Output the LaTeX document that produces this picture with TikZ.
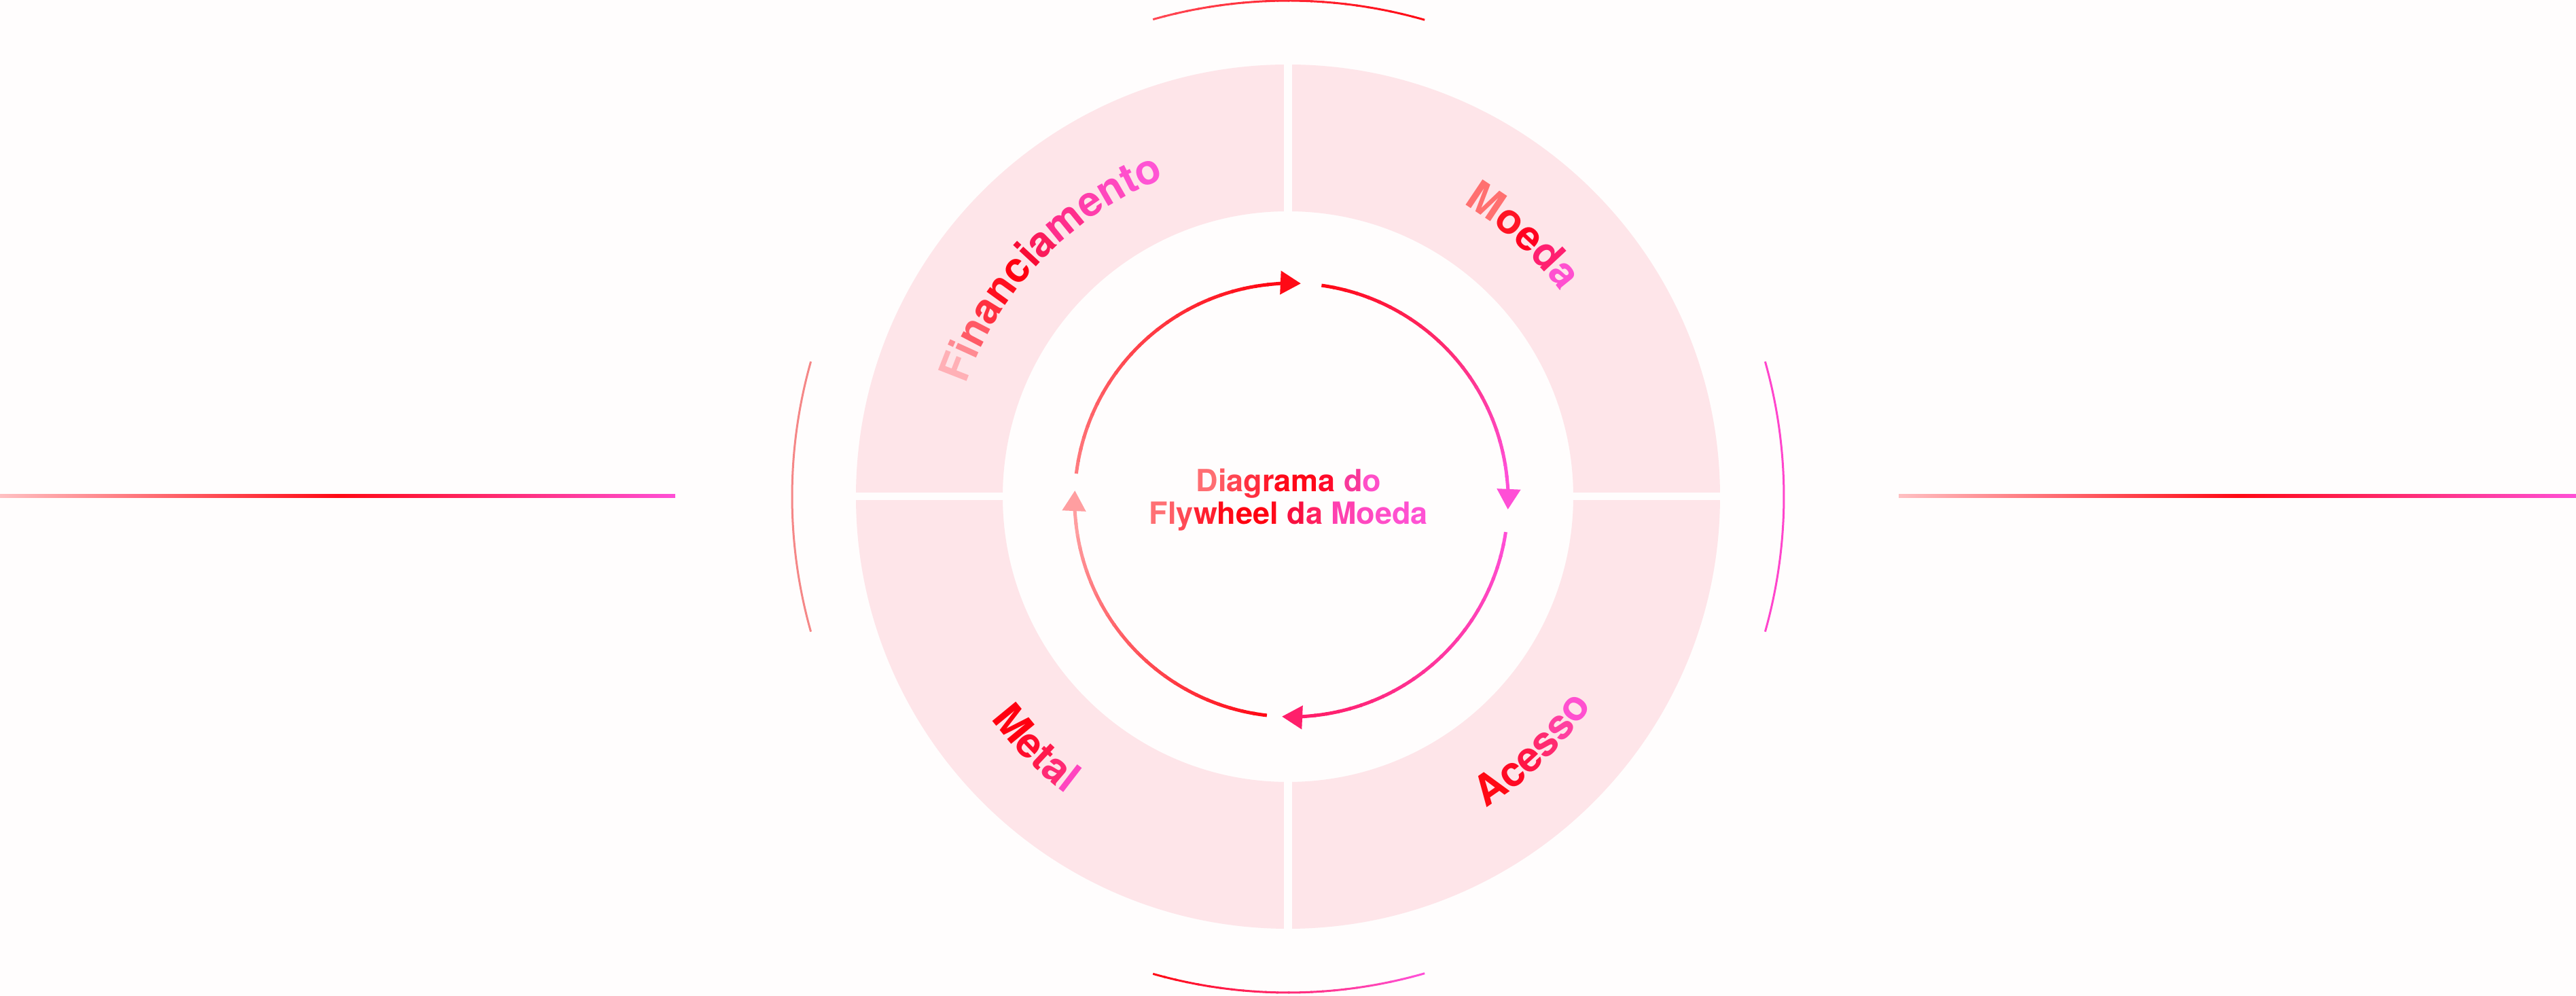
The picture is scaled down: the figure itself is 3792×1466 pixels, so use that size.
\documentclass[tikz,border=0pt]{standalone}
\usepackage{fontspec}
\setmainfont{TeX Gyre Heros}
\usetikzlibrary{arrows.meta,decorations.text}
\definecolor{bgc}{HTML}{FFFDFD}
\definecolor{ringc}{HTML}{FEE5E9}
\definecolor{gS}{HTML}{FF7A7E}
\definecolor{gR}{HTML}{FF0A16}
\definecolor{gM}{HTML}{FF4FD6}
\definecolor{gL}{HTML}{FFC0C2}
\definecolor{gP}{HTML}{FF1F6B}
\definecolor{gT}{HTML}{FF9EA0}
\definecolor{arcL}{HTML}{F58787}
\definecolor{arcR}{HTML}{FF45CC}
\definecolor{arcT}{HTML}{FF4652}
\newcommand\lblfont{\bfseries\fontsize{17.5}{20}\selectfont}
\newcommand\lc[1]{\lblfont\color[HTML]{#1}}
\newcommand\tc[2]{{\color[HTML]{#1}#2}}
\newcommand\gradarc[6]{%
  \foreach \k in {0,...,23}{%
    \pgfmathsetmacro\aS{#2+(#3-#2)*\k/24}%
    \pgfmathsetmacro\aE{#2+(#3-#2)*(\k+1.15)/24}%
    \pgfmathtruncatemacro\pc{100*\k/23}%
    \draw[#6,draw=#5!\pc!#4] (\aS:#1) arc[start angle=\aS,end angle=\aE,radius=#1];
  }}
\newcommand\arrowarc[5]{%
  \pgfmathsetmacro\aM{#2+9}%
  \gradarc{#5}{#1}{\aM}{#3}{#4}{flow}%
  \draw[flow,draw=#4,fill=#4,-{Triangle[length=3mm,width=3.4mm]}] (\aM:#5) arc[start angle=\aM,end angle=#2,radius=#5];
}
\tikzset{
  flow/.style={line width=0.5mm,line cap=butt},
  deco/.style={line width=0.3mm,line cap=butt},
  hline/.style={left color=gL,right color=gM,middle color=gR},
  ringlabel/.style={decorate,decoration={text along path,text align=center,text={#1}}}
}
\begin{document}
\begin{tikzpicture}[x=0.1mm,y=0.1mm]
\useasboundingbox (-1896,-735) rectangle (1896,731);
\fill[bgc] (-1896,-735) rectangle (1896,731);

% horizontal lines
\shade[hline] (-1896,-1.5) rectangle (-902,3.5);
\shade[hline] (899,-1.5) rectangle (1896,3.5);

% ring quadrants
\foreach \sx/\sy in {1/1,-1/1,-1/-1,1/-1}{
  \begin{scope}
    \clip (\sx*6,\sy*6) rectangle (\sx*700,\sy*700);
    \fill[ringc,even odd rule] (0,0) circle[radius=636] (0,0) circle[radius=420];
  \end{scope}
}

% decorative outer arcs
\gradarc{730}{105.8}{74.2}{arcT}{gR}{deco}
\draw[deco,arcL] (164.2:730) arc[start angle=164.2,end angle=195.8,radius=730];
\draw[deco,arcR] (-15.8:730) arc[start angle=-15.8,end angle=15.8,radius=730];
\gradarc{730}{254.2}{285.8}{gR}{gM}{deco}

% ring labels
\path[ringlabel={|\lc{FFB0B6}|F|\lc{FF8A92}|i|\lc{FF5A66}|n|\lc{FF3040}|a|\lc{FF1020}|n|\lc{FF0010}|c|\lc{F80C36}|i|\lc{FA1C5C}|a|\lc{FF2E8C}|m|\lc{FF3EAC}|e|\lc{FF48BE}|n|\lc{FF4FCC}|t|\lc{FF54D4}|o}]
  (176:502) arc[start angle=176,end angle=96,radius=502];
\path[ringlabel={|\lc{FF7070}|M|\lc{FF1424}|o|\lc{FF0020}|e|\lc{FF2070}|d|\lc{FF50D0}|a}]
  (80:502) arc[start angle=80,end angle=16,radius=502];
\path[ringlabel={|\lc{FF0010}|M|\lc{FF0C2C}|e|\lc{FF1A4C}|t|\lc{FF2A74}|a|\lc{FF45C0}|l}]
  (-167:546) arc[start angle=-167,end angle=-103,radius=546];
\path[ringlabel={|\lc{FF0A14}|A|\lc{FF0A24}|c|\lc{FF1545}|e|\lc{FF2A70}|s|\lc{FF40A0}|s|\lc{FF50D0}|o}]
  (-78:543) arc[start angle=-78,end angle=-14,radius=543];

% flywheel arrows
\begin{scope}[shift={(5,-5)}]
  \arrowarc{173}{87.5}{gS}{gR}{319}
  \arrowarc{82}{-2.5}{gR}{gM}{319}
  \arrowarc{-8.5}{-92.5}{gM}{gP}{319}
  \arrowarc{-96.5}{-182.5}{gR}{gT}{319}
\end{scope}

% centre title
\node[font=\bfseries\fontsize{12.8}{13.6}\selectfont,align=center,inner sep=0pt] (title) at (1,-5)
 {\tc{FF6E72}{D}\tc{FF5A62}{i}\tc{FF4652}{a}\tc{FF3040}{g}\tc{FF1A2C}{r}\tc{FF0A1A}{a}\tc{FF0818}{m}\tc{FF0A2A}{a} \tc{F8389A}{d}\tc{FF4FC8}{o}\\
  \tc{FF7074}{F}\tc{FF6068}{l}\tc{FF4A55}{y}\tc{FF2030}{w}\tc{FF0A18}{h}\tc{FF0010}{e}\tc{FF0010}{e}\tc{FF0A1A}{l} \tc{F81040}{d}\tc{FF2060}{a} \tc{FF40B0}{M}\tc{FF48C0}{o}\tc{FF4EC8}{e}\tc{FF50D0}{d}\tc{FF52D4}{a}};
\end{tikzpicture}
\end{document}
